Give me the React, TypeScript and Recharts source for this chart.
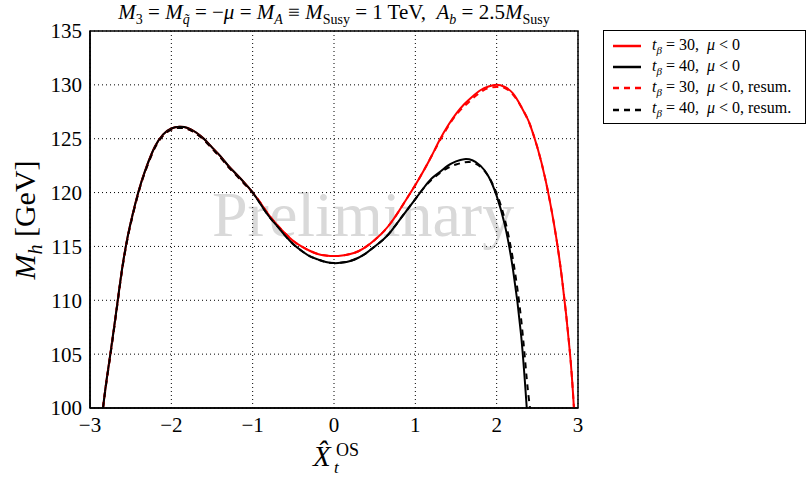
import React from "react";
import {
  LineChart,
  Line,
  XAxis,
  YAxis,
  CartesianGrid,
  ReferenceArea,
} from "recharts";

// x positions (X_t^OS) shared by all curves
const xs = [
  -2.84, -2.8, -2.75, -2.7, -2.65, -2.6, -2.55, -2.5, -2.4, -2.3, -2.2, -2.1, -2.0, -1.9, -1.8, -1.7, -1.6, -1.5, -1.4, -1.3, -1.2, -1.1, -1.0,
  -0.9, -0.8, -0.7, -0.6, -0.5, -0.4, -0.3, -0.2, -0.1, 0, 0.1, 0.2, 0.3, 0.4, 0.5, 0.6, 0.7, 0.8, 0.9, 1.0,
  1.1, 1.2, 1.3, 1.4, 1.5, 1.6, 1.7, 1.8, 1.9, 2.0, 2.1, 2.2, 2.3, 2.37, 2.41, 2.5, 2.6, 2.7, 2.8, 2.9, 2.95,
];

// M_h [GeV], tb = 30, mu < 0
const tb30 = [
  100, 102.4, 105.0, 107.7, 110.5, 113.2, 115.4, 117.2, 120.2, 122.5, 124.3, 125.4, 125.95, 126.1, 126.0, 125.6, 125.0, 124.2, 123.4, 122.5, 121.7, 120.9, 120.0,
  119.0, 117.9, 117.0, 116.2, 115.5, 115.0, 114.6, 114.3, 114.15, 114.1, 114.15, 114.3, 114.55, 115.0, 115.6, 116.3, 117.2, 118.3, 119.5, 120.7,
  122.0, 123.4, 124.9, 126.2, 127.3, 128.2, 128.9, 129.5, 129.85, 130.0, 129.8, 129.2, 128.0, 127.0, 126.3, 124.2, 121.2, 117.3, 112.2, 105.2, 100,
];

// tb = 40, mu < 0
const tb40 = [
  100, 102.4, 105.0, 107.7, 110.5, 113.2, 115.4, 117.2, 120.2, 122.5, 124.3, 125.4, 125.95, 126.1, 126.0, 125.6, 125.0, 124.2, 123.4, 122.5, 121.7, 120.9, 120.0,
  118.9, 117.8, 116.9, 116.0, 115.2, 114.6, 114.1, 113.8, 113.55, 113.45, 113.5, 113.65, 113.95, 114.4, 115.0, 115.6, 116.4, 117.4, 118.4, 119.4,
  120.4, 121.3, 121.9, 122.5, 122.9, 123.1, 123.0, 122.5, 121.5, 119.7, 117.0, 112.9, 106.8, 100, null, null, null, null, null, null, null,
];

// tb = 30, mu < 0, resummed
const tb30Resum = [
  100, 102.3, 104.9, 107.6, 110.4, 113.1, 115.3, 117.1, 120.1, 122.4, 124.2, 125.3, 125.85, 126.0, 125.9, 125.5, 124.9, 124.1, 123.3, 122.4, 121.6, 120.8, 120.0,
  119.0, 117.9, 117.0, 116.2, 115.5, 115.0, 114.6, 114.3, 114.15, 114.1, 114.15, 114.3, 114.55, 115.0, 115.6, 116.3, 117.2, 118.3, 119.5, 120.7,
  122.0, 123.4, 124.8, 126.1, 127.2, 128.0, 128.7, 129.3, 129.7, 129.8, 129.7, 129.1, 128.0, 127.0, 126.3, 124.2, 121.2, 117.3, 112.2, 105.2, 100,
];

// tb = 40, mu < 0, resummed
const tb40Resum = [
  100, 102.3, 104.9, 107.6, 110.4, 113.1, 115.3, 117.1, 120.1, 122.4, 124.2, 125.3, 125.85, 126.0, 125.9, 125.5, 124.9, 124.1, 123.3, 122.4, 121.6, 120.8, 120.0,
  118.9, 117.8, 116.9, 116.0, 115.2, 114.6, 114.1, 113.8, 113.55, 113.45, 113.5, 113.65, 113.95, 114.4, 115.0, 115.6, 116.4, 117.4, 118.4, 119.4,
  120.4, 121.2, 121.8, 122.3, 122.6, 122.8, 122.8, 122.4, 121.5, 119.9, 117.5, 113.8, 108.3, 102.7, 100, null, null, null, null, null, null,
];

const xTicks = [-3, -2, -1, 0, 1, 2, 3];
const yTicks = [100, 105, 110, 115, 120, 125, 130, 135];

const rows = xs.map((x, i) => ({
  x,
  tb30: tb30[i],
  tb40: tb40[i],
  tb30Resum: tb30Resum[i],
  tb40Resum: tb40Resum[i],
}));

const serif = "'Liberation Serif', 'DejaVu Serif', serif";

const legendItems = [
  { color: "#ff0000", dash: "", tb: "30", resum: false },
  { color: "#000000", dash: "", tb: "40", resum: false },
  { color: "#ff0000", dash: "6 5", tb: "30", resum: true },
  { color: "#000000", dash: "6 5", tb: "40", resum: true },
];

function LegendBox() {
  return (
    <div
      style={{
        position: "absolute",
        left: 603,
        top: 30,
        border: "1px solid #000",
        background: "#fff",
        fontFamily: serif,
        fontSize: 16,
        padding: "4px 0 3px 8px",
        width: 203,
        boxSizing: "border-box",
      }}
    >
      {legendItems.map((it, i) => (
        <div key={i} style={{ display: "flex", alignItems: "center", height: 21.3 }}>
          <svg width={30} height={10} style={{ marginRight: 10 }}>
            <line x1={1} x2={29} y1={5} y2={5} stroke={it.color} strokeWidth={2.5} strokeDasharray={it.dash} />
          </svg>
          <span style={{ whiteSpace: "nowrap" }}>
            <i>t</i>
            <sub style={{ fontSize: 11, fontStyle: "italic" }}>β</sub> = {it.tb}, &nbsp;<i>μ</i> &lt; 0
            {it.resum ? ", resum." : ""}
          </span>
        </div>
      ))}
    </div>
  );
}

const fmt = (v: number) => (v < 0 ? "\u2212" + Math.abs(v) : String(v));

export default function App() {
  return (
    <div style={{ position: "absolute", left: 0, top: 0, width: 810, height: 477, background: "#fff", overflow: "hidden" }}>
      {/* watermark behind the curves */}
      <div
        style={{
          position: "absolute",
          left: 212,
          top: 178,
          fontFamily: serif,
          fontSize: 64,
          color: "#d9d9d9",
          whiteSpace: "nowrap",
        }}
      >
        Preliminary
      </div>
      <div
        style={{
          position: "absolute",
          left: 90,
          width: 488,
          top: 0,
          textAlign: "center",
          fontFamily: serif,
          fontSize: 21,
          whiteSpace: "nowrap",
        }}
      >
        <i>M</i>
        <sub style={{ fontSize: 14 }}>3</sub> = <i>M</i>
        <sub style={{ fontSize: 14, fontStyle: "italic" }}>q̃</sub> = −<i>μ</i> = <i>M</i>
        <sub style={{ fontSize: 14, fontStyle: "italic" }}>A</sub> ≡ <i>M</i>
        <sub style={{ fontSize: 14 }}>Susy</sub> = 1 TeV, &nbsp;<i>A</i>
        <sub style={{ fontSize: 14, fontStyle: "italic" }}>b</sub> = 2.5<i>M</i>
        <sub style={{ fontSize: 14 }}>Susy</sub>
      </div>
      <div
        style={{
          position: "absolute",
          left: 27,
          top: 220,
          transform: "translate(-50%, -50%) rotate(-90deg)",
          fontFamily: serif,
          fontSize: 30,
          whiteSpace: "nowrap",
        }}
      >
        <i>M</i>
        <sub style={{ fontSize: 20, fontStyle: "italic" }}>h</sub> [GeV]
      </div>
      <div
        style={{
          position: "absolute",
          left: 313,
          top: 440,
          width: 50,
          height: 36,
          fontFamily: serif,
          whiteSpace: "nowrap",
          lineHeight: 1,
        }}
      >
        <i style={{ position: "absolute", left: 0, top: 2, fontSize: 29 }}>X̂</i>
        <span style={{ position: "absolute", left: 23, top: 1, fontSize: 18 }}>OS</span>
        <i style={{ position: "absolute", left: 21, top: 19, fontSize: 17 }}>t</i>
      </div>
      <LineChart
        width={810}
        height={477}
        data={rows}
        margin={{ top: 31, right: 232, bottom: 29, left: 30 }}
      >
        <CartesianGrid stroke="#000" strokeDasharray="1 3" />
        <XAxis
          type="number"
          dataKey="x"
          domain={[-3, 3]}
          ticks={xTicks}
          tickFormatter={fmt}
          allowDataOverflow
          height={40}
          axisLine={{ stroke: "#000", strokeWidth: 1.5 }}
          tickLine={false}
          tickMargin={3}
          tick={{ fill: "#000", fontFamily: serif, fontSize: 21 }}
        />
        <YAxis
          type="number"
          domain={[100, 135]}
          ticks={yTicks}
          allowDataOverflow
          width={60}
          axisLine={{ stroke: "#000", strokeWidth: 1.5 }}
          tickLine={false}
          tickMargin={2}
          tick={{ fill: "#000", fontFamily: serif, fontSize: 21 }}
        />
        <ReferenceArea x1={-3} x2={3} y1={100} y2={135} fill="none" stroke="#000" strokeWidth={1.5} />
        <Line type="natural" dataKey="tb30" stroke="#ff0000" strokeWidth={2} dot={false} isAnimationActive={false} />
        <Line type="natural" dataKey="tb40" stroke="#000" strokeWidth={2} dot={false} isAnimationActive={false} />
        <Line type="natural" dataKey="tb30Resum" stroke="#ff0000" strokeWidth={2} strokeDasharray="6 5" dot={false} isAnimationActive={false} />
        <Line type="natural" dataKey="tb40Resum" stroke="#000" strokeWidth={2} strokeDasharray="6 5" dot={false} isAnimationActive={false} />
      </LineChart>
      <LegendBox />
    </div>
  );
}
